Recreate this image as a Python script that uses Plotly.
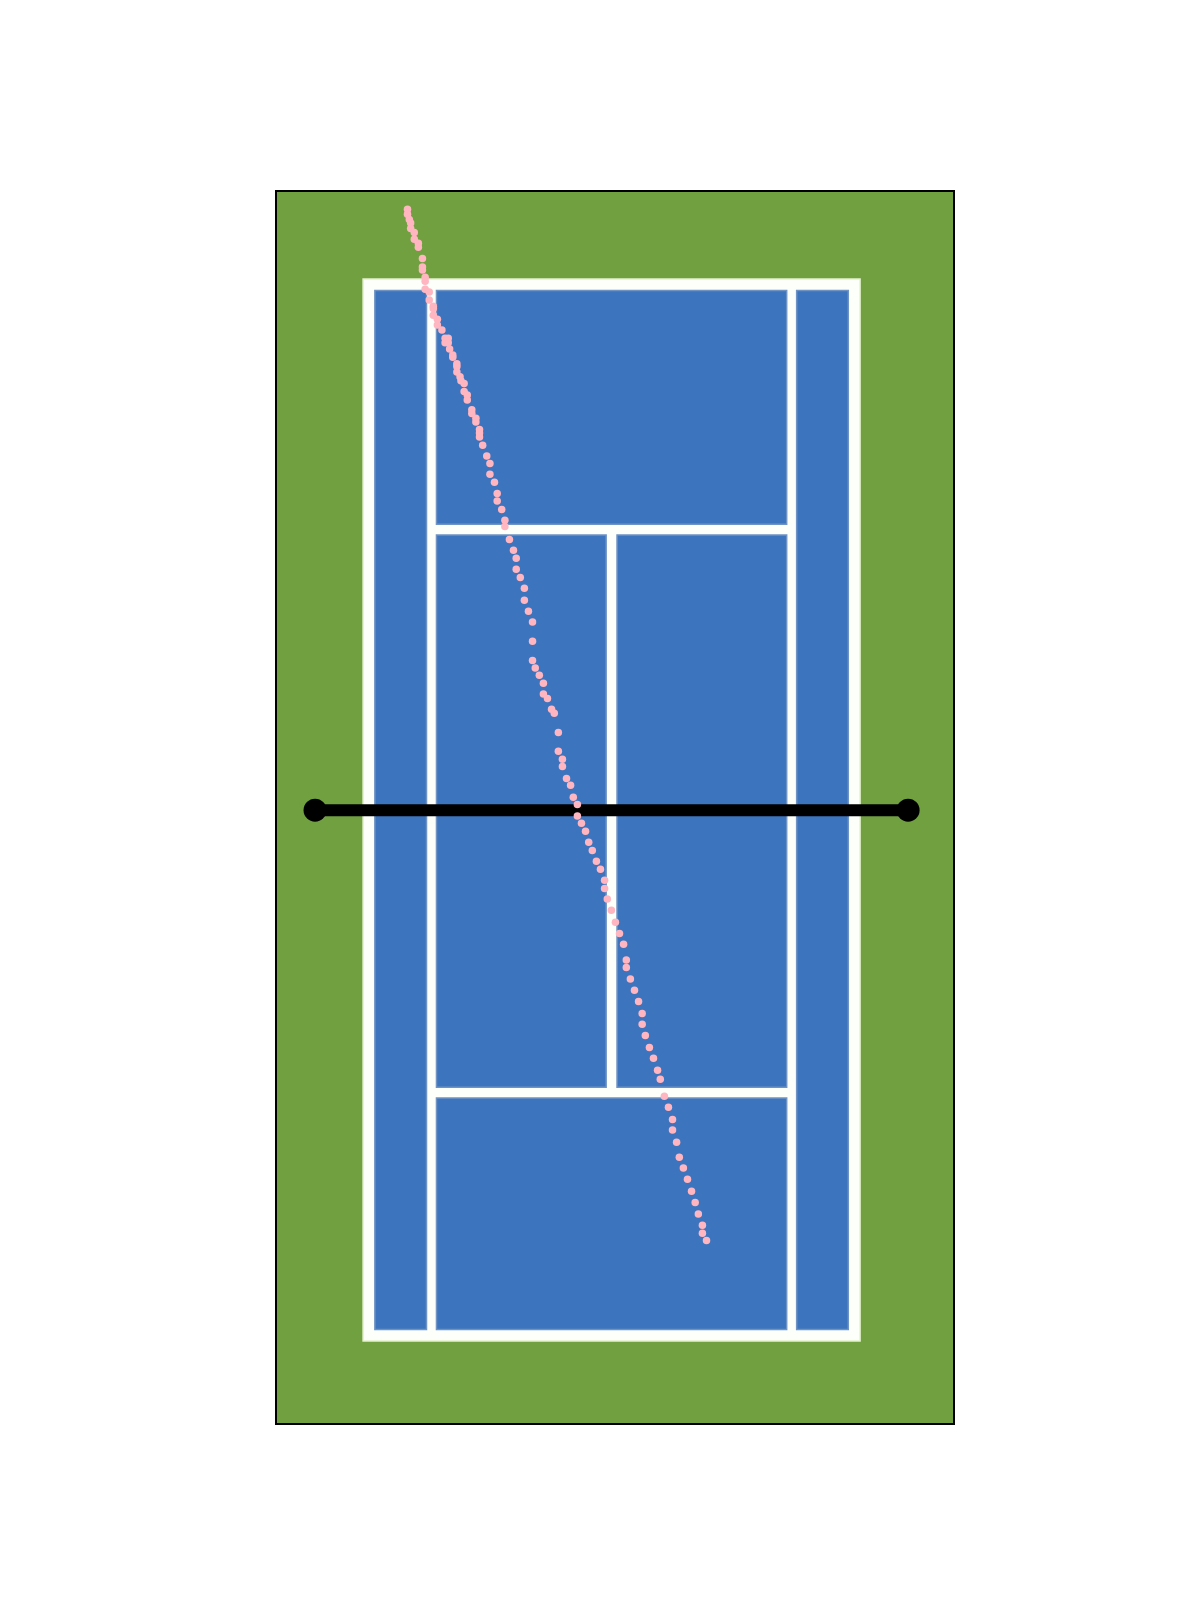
import plotly.graph_objects as go

# Court dimensions (metres) as drawn in the picture
court_width = 10.97
court_length = 23.77
line_w = 0.26
singles_in = 1.40      # outer edge of singles sideline measured from doubles sideline
singles_out = 1.62     # inner edge of singles sideline
centre_lo, centre_hi = 5.365, 5.605
service_low = (5.44, 5.68)
service_high = (18.04, 18.28)

# Net (posts and line)
net_x = [-1.06, 12.03]
net_y = [11.88, 11.88]

# Ball trajectory (metres)
ball_x = [0.98, 0.98, 1.02, 1.05, 1.05, 1.13, 1.13, 1.22, 1.22, 1.31, 1.31, 1.31, 1.37, 1.37, 1.37,
          1.46, 1.46, 1.55, 1.55, 1.55, 1.64, 1.64, 1.74, 1.81, 1.88, 1.81, 1.88, 1.91, 1.98, 1.98,
          2.07, 2.07, 2.07, 2.14, 2.16, 2.23, 2.23, 2.30, 2.30, 2.40, 2.40, 2.49, 2.49, 2.57, 2.57,
          2.57, 2.64, 2.73, 2.80, 2.80, 2.90, 2.96, 2.96, 3.06, 3.13, 3.13, 3.23, 3.32, 3.38, 3.38,
          3.47, 3.56, 3.56, 3.65, 3.74, 3.74, 3.74, 3.80, 3.89, 3.98, 3.98, 4.07, 4.16, 4.22, 4.31,
          4.31, 4.40, 4.40, 4.49, 4.58, 4.64, 4.73, 4.73, 4.82, 4.91, 4.98, 5.06, 5.15, 5.24, 5.33,
          5.33, 5.39, 5.48, 5.57, 5.66, 5.75, 5.81, 5.81, 5.90, 5.99, 6.08, 6.16, 6.16, 6.23, 6.32,
          6.41, 6.50, 6.56, 6.65, 6.74, 6.83, 6.83, 6.92, 6.98, 7.07, 7.16, 7.25, 7.33, 7.40, 7.49,
          7.49, 7.58]
ball_y = [25.33, 25.22, 25.10, 25.02, 24.90, 24.81, 24.66, 24.57, 24.48, 24.23, 24.04, 23.97, 23.81,
          23.72, 23.54, 23.48, 23.30, 23.16, 23.11, 22.96, 22.87, 22.74, 22.63, 22.44, 22.44, 22.34,
          22.34, 22.20, 22.07, 22.02, 21.87, 21.81, 21.69, 21.58, 21.49, 21.43, 21.25, 21.17, 21.06,
          20.84, 20.76, 20.65, 20.57, 20.40, 20.32, 20.23, 20.05, 19.81, 19.64, 19.40, 19.22, 18.97,
          18.80, 18.61, 18.37, 18.23, 17.94, 17.70, 17.52, 17.27, 17.09, 16.85, 16.58, 16.33, 16.09,
          15.66, 15.23, 15.06, 14.90, 14.72, 14.48, 14.38, 14.14, 14.05, 13.62, 13.20, 13.02, 12.86,
          12.59, 12.44, 12.17, 12.01, 11.75, 11.59, 11.41, 11.16, 10.98, 10.74, 10.56, 10.31, 10.13,
          9.89, 9.64, 9.37, 9.12, 8.88, 8.53, 8.36, 8.10, 7.85, 7.60, 7.33, 7.09, 6.84, 6.57, 6.33,
          6.06, 5.86, 5.48, 5.23, 4.96, 4.72, 4.45, 4.11, 3.87, 3.62, 3.35, 3.10, 2.84, 2.59, 2.41,
          2.25]

# Visible extent around the court
x_range = [-1.90, 13.021]
y_range = [-1.835, 25.716]

GREEN = "#70A040"
BLUE = "#3C75BE"
WHITE = "#FDFFFB"

fig = go.Figure()

W, L = court_width, court_length
shapes = []


def rect(x0, x1, y0, y1, color, edge=None):
    shapes.append(dict(type="rect", xref="x", yref="y", x0=x0, x1=x1, y0=y0, y1=y1,
                       fillcolor=color, layer="below",
                       line=dict(width=1.5 if edge else 0, color=edge or color)))


# white lines (whole doubles court)
rect(0, W, 0, L, WHITE, edge="#E4F2CC")
# alleys
rect(line_w, singles_in, line_w, L - line_w, BLUE, edge="#6E93C4")
rect(W - singles_in, W - line_w, line_w, L - line_w, BLUE, edge="#6E93C4")
# back courts
rect(singles_out, W - singles_out, service_high[1], L - line_w, BLUE, edge="#6E93C4")
rect(singles_out, W - singles_out, line_w, service_low[0], BLUE, edge="#6E93C4")
# service boxes
rect(singles_out, centre_lo, service_low[1], service_high[0], BLUE, edge="#6E93C4")
rect(centre_hi, W - singles_out, service_low[1], service_high[0], BLUE, edge="#6E93C4")

# net
fig.add_trace(go.Scatter(x=net_x, y=net_y, mode="lines+markers",
                         line=dict(color="black", width=12),
                         marker=dict(color="black", size=23),
                         hoverinfo="skip", showlegend=False))

# ball trajectory
fig.add_trace(go.Scatter(x=ball_x, y=ball_y, mode="markers",
                         marker=dict(color="#FFB6C1", size=7.5, line=dict(width=0)),
                         showlegend=False))

# page body adds an 8 px margin, so the figure is sized to fit inside it
fig.update_layout(
    width=1184, height=1584,
    margin=dict(l=269, r=239, t=184, b=169),
    paper_bgcolor="white",
    plot_bgcolor=GREEN,
    shapes=shapes,
    showlegend=False,
)
axis_common = dict(showgrid=False, zeroline=False, showticklabels=False, ticks="",
                   showline=True, linecolor="black", linewidth=2, mirror=True,
                   fixedrange=True)
fig.update_xaxes(range=x_range, **axis_common)
fig.update_yaxes(range=y_range, **axis_common)

fig.write_html("out.html")
